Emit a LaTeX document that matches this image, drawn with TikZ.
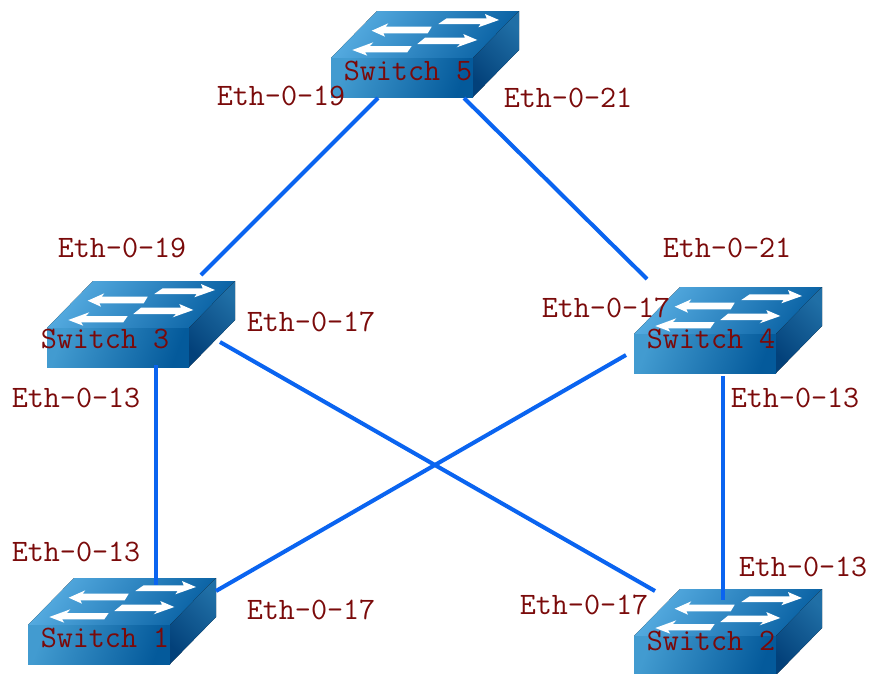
\documentclass[tikz,border=0pt]{standalone}
\usepackage{xcolor}
\definecolor{linkblue}{HTML}{0A64F0}
\definecolor{labelred}{HTML}{7A0A0A}
\definecolor{toplight}{HTML}{55ABE0}
\definecolor{topdark}{HTML}{0A62A4}
\definecolor{frontlight}{HTML}{429BD0}
\definecolor{frontdark}{HTML}{045A9B}
\definecolor{sidelight}{HTML}{206FA6}
\definecolor{sidedark}{HTML}{03417A}
\tikzset{
  swtop/.style={draw=none,left color=toplight,right color=topdark,shading angle=55},
  swfront/.style={draw=none,left color=frontlight,right color=frontdark,shading angle=70},
  swside/.style={draw=none,bottom color=sidedark,top color=sidelight,shading angle=-45},
  swarrow/.style={fill=white,draw=none},
  link/.style={draw=linkblue,line width=2.3pt},
  portlabel/.style={text=labelred,font=\ttfamily\fontsize{17.75}{18}\selectfont,inner sep=0pt},
  switchlabel/.style={portlabel},
  switchicon/.pic={
    \fill[swtop] (0,0) -- (46,-47) -- (188,-47) -- (142,0) -- cycle;
    \fill[swfront] (0,0) rectangle (142,39);
    \fill[swside] (142,0) -- (188,-47) -- (188,-8) -- (142,39) -- cycle;
    \fill[swarrow] (107.3,-34) -- (115.7,-39.7) -- (155.7,-39.7) -- (154,-44) -- (168,-38) -- (147.3,-30.7) -- (149.7,-34) -- cycle;
    \fill[swarrow] (40.7,-27.3) -- (57.3,-34.7) -- (54.7,-31.3) -- (100.7,-31.3) -- (96.7,-24.7) -- (52.3,-24.7) -- (54,-21.3) -- cycle;
    \fill[swarrow] (21.3,-8) -- (42.3,-15.7) -- (39,-12) -- (80.7,-12) -- (76.3,-5.7) -- (34,-5.7) -- (36.3,-2.3) -- cycle;
    \fill[swarrow] (86.3,-14) -- (94,-20.3) -- (134,-20.3) -- (132.3,-24) -- (146.3,-18) -- (125.7,-10.7) -- (129,-14) -- cycle;
  }
}
\begin{document}
\begin{tikzpicture}[x=0.02cm,y=-0.02cm]
  \useasboundingbox (0,0) rectangle (869,673);
  \foreach \swx/\swy in {331/58,47/328,634/334,28/625,634/636}
    \pic at (\swx,\swy) {switchicon};
  % link ends
  \coordinate (sfiveleft) at (378,98);
  \coordinate (sfiveright) at (464,98);
  \coordinate (sthreetop) at (201,275);
  \coordinate (sthreeright) at (220,342);
  \coordinate (sthreebottom) at (156,365);
  \coordinate (sfourtop) at (647,279);
  \coordinate (sfourleft) at (626,355);
  \coordinate (sfourbottom) at (723,376);
  \coordinate (sonetop) at (156,585);
  \coordinate (soneright) at (216,591);
  \coordinate (stwoleft) at (655,591);
  \coordinate (stwotop) at (723,600);
  \draw[link] (sfiveleft) -- (sthreetop);
  \draw[link] (sfiveright) -- (sfourtop);
  \draw[link] (sthreebottom) -- (sonetop);
  \draw[link] (sthreeright) -- (stwoleft);
  \draw[link] (sfourleft) -- (soneright);
  \draw[link] (sfourbottom) -- (stwotop);
  % switches
  \node[switchlabel] (sfive) at (408,71) {Switch 5};
  \node[switchlabel] (sthree) at (105,339) {Switch 3};
  \node[switchlabel] (sfour) at (711,339) {Switch 4};
  \node[switchlabel] (sone) at (105,638) {Switch 1};
  \node[switchlabel] (stwo) at (711,641) {Switch 2};
  % ports
  \node[portlabel] (pfivel) at (281,96) {Eth-0-19};
  \node[portlabel] (pfiver) at (568,98) {Eth-0-21};
  \node[portlabel] (pthreet) at (122,248) {Eth-0-19};
  \node[portlabel] (pthreer) at (311,322) {Eth-0-17};
  \node[portlabel] (pthreeb) at (76,398) {Eth-0-13};
  \node[portlabel] (ponet) at (76,552) {Eth-0-13};
  \node[portlabel] (poner) at (311,610) {Eth-0-17};
  \node[portlabel] (pfourt) at (727,248) {Eth-0-21};
  \node[portlabel] (pfourl) at (606,308) {Eth-0-17};
  \node[portlabel] (pfourb) at (795,398) {Eth-0-13};
  \node[portlabel] (ptwol) at (584,605) {Eth-0-17};
  \node[portlabel] (ptwot) at (803,567) {Eth-0-13};
\end{tikzpicture}
\end{document}
